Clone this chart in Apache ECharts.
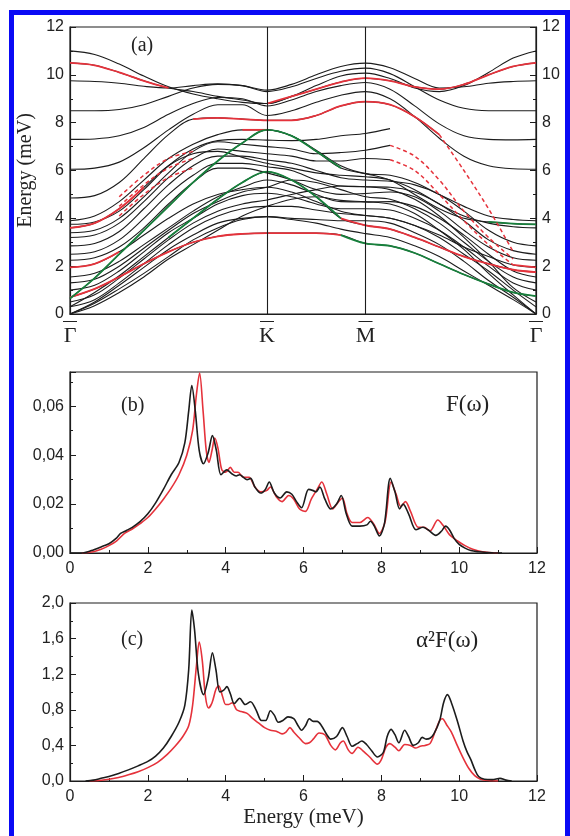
<!DOCTYPE html>
<html>
<head>
<meta charset="utf-8">
<title>phonon dispersion, F(w), a2F(w)</title>
<script src="https://cdn.jsdelivr.net/npm/echarts@6/dist/echarts.min.js"></script>
<style>
html,body{margin:0;padding:0;background:#fff;}
#chart{width:570px;height:836px;}
</style>
</head>
<body>
<div id="chart"></div>
<script>
// k-path  G(0) -> K(1) -> M(1.5) -> G(2.366)
var kPath = [0, 0.125, 0.25, 0.375, 0.5, 0.625, 0.75, 0.875, 1.0, 1.125, 1.25, 1.375, 1.5, 1.625, 1.75, 1.875, 2.0, 2.125, 2.25, 2.366];
var kLabels = ['Γ', 'K', 'M', 'Γ'];
var kMarks = [0, 1, 1.5, 2.366];

// black bands (meV)
var bk1  = [11.0, 10.85, 10.45, 9.95, 9.5, 9.2, 9.0, 8.85, 8.8, 9.1, 9.55, 9.95, 10.07, 9.85, 9.45, 9.3, 9.55, 10.1, 10.7, 11.0];
var bk2  = [9.75, 9.72, 9.65, 9.52, 9.45, 9.55, 9.62, 9.55, 9.36, 9.6, 10.0, 10.35, 10.49, 10.3, 9.85, 9.45, 9.5, 9.65, 9.72, 9.75];
var bk3  = [8.5, 8.5, 8.55, 8.75, 9.1, 9.45, 9.6, 9.55, 9.3, 9.5, 9.85, 10.15, 10.28, 10.05, 9.5, 8.95, 8.6, 8.5, 8.5, 8.5];
var bk4  = [7.3, 7.32, 7.45, 7.8, 8.35, 8.8, 9.05, 9.0, 8.7, 8.95, 9.3, 9.55, 9.68, 9.4, 8.7, 7.95, 7.45, 7.3, 7.28, 7.3];
var bk5  = [6.05, 6.1, 6.35, 6.95, 7.7, 8.35, 8.75, 8.75, 8.3, 8.5, 8.85, 9.15, 9.3, 9.0, 8.25, 7.35, 6.6, 6.2, 6.07, 6.05];
var bk6  = [4.85, 4.95, 5.5, 6.5, 7.5, 8.15, 8.2, 8.15, 8.1, 8.1, 8.3, 8.7, 8.88, 8.75, 8.25, 7.5, null, null, null, null];
var bk7  = [3.9, 4.1, 4.7, 5.6, 6.5, 7.1, 7.5, 7.7, 7.7, 7.45, 6.85, 6.2, 5.87, 5.8, 5.5, 5.0, 4.5, 4.1, 3.95, 3.9];
var bk8  = [3.75, 3.85, 4.3, 5.2, 6.2, 6.9, 7.25, 7.3, 7.27, 7.25, 7.3, 7.45, 7.55, 7.75, null, null, null, null, null, null];
var bk9  = [3.4, 3.5, 4.0, 4.9, 5.9, 6.8, 7.2, 7.1, 7.0, 6.9, 6.7, 6.75, 6.85, 7.05, null, null, null, null, null, null];
var bk10 = [3.2, 3.3, 3.8, 4.7, 5.7, 6.5, 6.9, 6.8, 6.7, 6.6, 6.4, 6.4, 6.5, 6.45, null, null, null, null, null, null];
var bk11 = [2.85, 2.95, 3.45, 4.4, 5.4, 6.2, 6.6, 6.6, 6.44, 6.3, 6.0, 5.7, 5.6, 5.55, 5.4, 5.0, 4.3, 3.5, 3.0, 2.85];
var bk12 = [2.5, 2.6, 3.1, 4.0, 5.0, 5.8, 6.3, 6.3, 6.16, 6.0, 5.6, 5.35, 5.32, 5.3, 5.1, 4.6, 3.9, 3.1, 2.65, 2.5];
var bk13 = [2.25, 2.35, 2.8, 3.6, 4.6, 5.5, 6.1, 6.1, 5.9, 5.6, 5.2, 5.0, 5.04, 5.1, 4.9, 4.3, 3.5, 2.8, 2.35, 2.25];
var bk14 = [1.55, 1.7, 2.2, 2.9, 3.6, 4.3, 4.9, 5.3, 5.6, 5.4, 5.0, 4.7, 4.69, 4.7, 4.5, 4.0, 3.3, 2.5, 1.8, 1.55];
var bk15 = [1.3, 1.45, 2.0, 2.75, 3.5, 4.2, 4.7, 5.1, 5.3, 5.6, 5.5, 5.2, 4.9, 4.8, 4.4, 3.8, 3.0, 2.2, 1.55, 1.3];
var bk16 = [1.0, 1.2, 1.8, 2.6, 3.4, 4.0, 4.6, 4.95, 5.05, 4.9, 4.6, 4.4, 4.4, 4.35, 4.0, 3.5, 2.8, 2.0, 1.3, 1.0];
var bk17 = [0.5, 0.8, 1.5, 2.3, 3.1, 3.8, 4.3, 4.6, 4.77, 5.0, 5.2, 5.35, 5.32, 5.2, 4.8, 4.1, 3.2, 2.2, 1.1, 0.5];
var bk18 = [0.3, 0.6, 1.3, 2.1, 2.9, 3.6, 4.1, 4.4, 4.5, 4.5, 4.35, 4.2, 4.12, 4.0, 3.7, 3.2, 2.5, 1.8, 1.0, 0.3];
var bk19 = [0, 0.5, 1.2, 1.95, 2.7, 3.3, 3.8, 4.0, 4.07, 4.0, 3.95, 3.9, 3.9, 3.8, 3.4, 2.9, 2.2, 1.4, 0.7, 0];
var bk20 = [0, 0.45, 1.05, 1.7, 2.4, 3.1, 3.6, 3.95, 4.07, 3.95, 3.8, 3.55, 3.36, 3.2, 2.85, 2.4, 1.8, 1.2, 0.6, 0];
var bk21 = [0, 0.35, 0.9, 1.55, 2.3, 2.9, 3.5, 4.1, 4.5, 4.8, 4.9, 4.75, 4.69, 4.6, 4.2, 3.5, 2.7, 1.7, 0.8, 0];
var bkA  = [0.65, 1.5, 2.5, 3.5, 4.5, 5.5, 6.4, 7.15, 7.7, 7.45, 6.8, 6.1, 5.87, 5.6, 5.0, 4.4, 4.0, 3.85, 3.78, 3.75];
var bkB  = [0.3, 0.9, 1.6, 2.4, 3.2, 4.0, 4.8, 5.5, 5.95, 5.6, 4.9, 4.0, 3.71, 3.55, 3.2, 2.8, 2.4, 2.1, 1.85, 1.75];
var bkL  = [0.7, 1.05, 1.55, 2.1, 2.6, 3.0, 3.25, 3.35, 3.38, 3.38, 3.38, 3.3, 2.95, 2.85, 2.55, 2.1, 1.65, 1.25, 0.9, 0.75];
var bkR  = [1.95, 2.1, 2.6, 3.3, 4.0, 4.6, 5.0, 5.2, 5.3, 5.1, 4.7, 4.3, 4.12, 4.0, 3.7, 3.3, 2.8, 2.4, 2.05, 1.95];
var bkH  = [3.6, 3.8, 4.4, 5.3, 6.2, 6.7, 6.8, 6.55, 6.3, 6.1, 5.9, 5.8, 5.74, 5.6, 5.2, 4.6, 4.1, 3.8, 3.65, 3.6];
var bkT  = [10.5, 10.4, 10.1, 9.75, 9.45, 9.3, 9.1, 8.95, 8.8, 9.1, 9.4, 9.7, 9.86, 9.75, 9.5, 9.4, 9.6, 10.0, 10.35, 10.5];

// coloured parts of bands (null = not coloured)
var redTop   = [10.5, 10.4, 10.1, 9.75, 9.45, null, null, null, 8.8, 9.1, 9.4, 9.7, 9.86, 9.75, 9.5, 9.4, 9.6, 10.0, 10.35, 10.5];
var red8     = [null, null, null, null, null, 8.15, 8.2, 8.15, 8.1, 8.1, 8.3, 8.7, 8.88, 8.75, 8.25, 7.5, null, null, null, null];
var red77    = [null, null, null, null, null, null, null, 7.7, 7.7, null, null, null, null, null, null, null, null, null, null, null];
var redLow   = [0.7, 1.05, 1.55, 2.1, 2.6, 3.0, 3.25, 3.35, 3.38, 3.38, 3.38, 3.3, null, null, null, null, null, null, null, null];
var redMid   = [null, null, null, null, null, null, null, null, null, null, null, 4.0, 3.71, 3.55, 3.2, 2.8, 2.4, 2.1, 1.85, 1.75];
var red195   = [1.95, 2.1, 2.6, null, null, null, null, null, null, null, null, null, null, null, null, null, null, null, 2.05, 1.95];
var red36    = [3.6, 3.8, 4.4, 5.3, null, null, null, null, null, null, null, null, null, null, null, null, null, null, null, null];
var greenA   = [0.65, 1.5, 2.5, 3.5, 4.5, 5.5, 6.4, 7.15, 7.7, 7.45, 6.8, 6.1, null, null, null, null, null, 3.85, 3.78, 3.75];
var greenB   = [null, null, null, null, 3.2, 4.0, 4.8, 5.5, 5.95, 5.6, 4.9, 4.0, null, null, null, null, null, null, null, null];
var greenLow = [null, null, null, null, null, null, null, null, null, null, null, 3.3, 2.95, 2.85, 2.55, 2.1, 1.65, 1.25, 0.9, 0.75];
var dashL1 = [null, null, 4.9, 5.8, 6.5, 6.8, null, null, null, null, null, null, null, null, null, null, null, null, null, null];
var dashL2 = [null, null, 4.5, 5.4, 6.1, 6.5, null, null, null, null, null, null, null, null, null, null, null, null, null, null];
var dashL3 = [null, null, 4.1, 5.0, 5.7, 6.1, null, null, null, null, null, null, null, null, null, null, null, null, null, null];
var dashR1 = [null, null, null, null, null, null, null, null, null, null, null, null, null, null, null, 7.5, 6.0, 4.4, 2.6, null];
var dashR2 = [null, null, null, null, null, null, null, null, null, null, null, null, null, 7.05, 6.6, 5.6, 4.3, 3.2, 2.3, null];
var dashR3 = [null, null, null, null, null, null, null, null, null, null, null, null, null, 6.45, 6.0, 5.0, 3.9, 2.9, 2.05, null];

// (b) F(w)
var fEnergyBlack = [0, 0.3, 0.55, 0.8, 1.0, 1.2, 1.3, 1.45, 1.6, 1.8, 2.0, 2.2, 2.4, 2.6, 2.8, 2.95, 3.05, 3.13, 3.22, 3.32, 3.43, 3.55, 3.66, 3.76, 3.88, 4.03, 4.15, 4.27, 4.36, 4.45, 4.55, 4.64, 4.75, 4.9, 5.02, 5.12, 5.25, 5.4, 5.57, 5.7, 5.82, 5.95, 6.13, 6.25, 6.32, 6.42, 6.55, 6.7, 6.85, 6.97, 7.1, 7.25, 7.45, 7.63, 7.72, 7.82, 7.95, 8.08, 8.23, 8.35, 8.47, 8.56, 8.7, 8.89, 9.07, 9.2, 9.4, 9.55, 9.65, 9.75, 9.87, 10.0, 10.15, 10.3, 10.5, 10.7, 10.9, 11.1];
var fBlack = [0, 0, 0.001, 0.0025, 0.0038, 0.0062, 0.008, 0.0092, 0.0105, 0.0128, 0.016, 0.0205, 0.026, 0.032, 0.037, 0.045, 0.058, 0.0685, 0.058, 0.042, 0.0365, 0.041, 0.048, 0.042, 0.032, 0.034, 0.0325, 0.0315, 0.032, 0.031, 0.030, 0.0305, 0.027, 0.0245, 0.026, 0.029, 0.0245, 0.0225, 0.025, 0.024, 0.021, 0.0185, 0.026, 0.0255, 0.025, 0.027, 0.022, 0.018, 0.020, 0.0235, 0.016, 0.011, 0.011, 0.0115, 0.013, 0.011, 0.007, 0.012, 0.0305, 0.025, 0.018, 0.020, 0.016, 0.0095, 0.0105, 0.0095, 0.0072, 0.009, 0.011, 0.0095, 0.006, 0.0035, 0.002, 0.001, 0.0005, 0.0002, 0, 0];
var fEnergyRed = [0.3, 0.6, 0.8, 1.0, 1.2, 1.4, 1.6, 1.8, 2.0, 2.2, 2.4, 2.6, 2.8, 3.0, 3.15, 3.25, 3.33, 3.42, 3.5, 3.57, 3.65, 3.72, 3.8, 3.9, 4.0, 4.12, 4.22, 4.32, 4.45, 4.6, 4.75, 4.9, 5.05, 5.15, 5.3, 5.45, 5.62, 5.75, 5.9, 6.05, 6.2, 6.35, 6.47, 6.6, 6.75, 6.9, 7.0, 7.12, 7.25, 7.45, 7.65, 7.8, 7.95, 8.1, 8.25, 8.38, 8.5, 8.62, 8.75, 8.95, 9.1, 9.25, 9.45, 9.6, 9.75, 9.95, 10.15, 10.35, 10.6, 11.0];
var fRed = [0, 0.0005, 0.0015, 0.003, 0.005, 0.008, 0.0098, 0.012, 0.0145, 0.018, 0.022, 0.0265, 0.032, 0.04, 0.05, 0.065, 0.0736, 0.058, 0.042, 0.037, 0.042, 0.047, 0.043, 0.034, 0.033, 0.035, 0.033, 0.033, 0.031, 0.031, 0.027, 0.025, 0.0255, 0.027, 0.023, 0.021, 0.0235, 0.022, 0.018, 0.017, 0.022, 0.026, 0.029, 0.024, 0.018, 0.021, 0.0225, 0.016, 0.0125, 0.0125, 0.0145, 0.012, 0.008, 0.013, 0.029, 0.024, 0.019, 0.021, 0.017, 0.0105, 0.0105, 0.009, 0.0135, 0.011, 0.0075, 0.005, 0.003, 0.0015, 0.0005, 0];

// (c) a2F(w)
var aEnergyBlack = [0.4, 0.6, 0.8, 1.0, 1.25, 1.5, 1.75, 2.0, 2.2, 2.4, 2.6, 2.8, 2.95, 3.05, 3.13, 3.2, 3.3, 3.43, 3.55, 3.66, 3.75, 3.85, 3.95, 4.03, 4.12, 4.22, 4.36, 4.5, 4.64, 4.78, 4.92, 5.03, 5.15, 5.25, 5.35, 5.47, 5.6, 5.75, 5.85, 5.95, 6.05, 6.15, 6.25, 6.35, 6.45, 6.6, 6.7, 6.85, 7.0, 7.12, 7.25, 7.38, 7.5, 7.62, 7.75, 7.9, 8.05, 8.15, 8.25, 8.35, 8.45, 8.6, 8.7, 8.82, 8.95, 9.05, 9.15, 9.25, 9.35, 9.5, 9.6, 9.7, 9.8, 9.95, 10.1, 10.2, 10.3, 10.4, 10.5, 10.65, 10.85, 11.05, 11.2, 11.35];
var aBlack = [0, 0.01, 0.03, 0.05, 0.085, 0.125, 0.17, 0.22, 0.28, 0.37, 0.5, 0.66, 0.85, 1.25, 1.92, 1.7, 1.2, 0.97, 1.15, 1.44, 1.25, 1.0, 1.02, 1.06, 0.98, 0.87, 0.93, 0.86, 0.89, 0.8, 0.68, 0.68, 0.79, 0.74, 0.66, 0.68, 0.72, 0.7, 0.63, 0.57, 0.62, 0.70, 0.67, 0.67, 0.63, 0.52, 0.47, 0.5, 0.6, 0.5, 0.39, 0.42, 0.45, 0.41, 0.34, 0.27, 0.32, 0.5, 0.58, 0.52, 0.43, 0.57, 0.5, 0.4, 0.43, 0.49, 0.47, 0.48, 0.53, 0.68, 0.88, 0.97, 0.88, 0.68, 0.45, 0.33, 0.24, 0.13, 0.05, 0.02, 0.015, 0.03, 0.01, 0];
var aEnergyRed = [0.5, 0.75, 1.0, 1.25, 1.5, 1.75, 2.0, 2.25, 2.5, 2.7, 2.9, 3.05, 3.15, 3.25, 3.32, 3.4, 3.48, 3.56, 3.65, 3.75, 3.82, 3.92, 4.0, 4.08, 4.17, 4.28, 4.4, 4.55, 4.7, 4.85, 5.0, 5.15, 5.3, 5.45, 5.55, 5.65, 5.75, 5.9, 6.05, 6.15, 6.25, 6.4, 6.55, 6.7, 6.82, 6.95, 7.02, 7.15, 7.25, 7.4, 7.55, 7.7, 7.9, 8.0, 8.12, 8.22, 8.35, 8.45, 8.6, 8.75, 8.88, 9.0, 9.12, 9.25, 9.38, 9.5, 9.57, 9.68, 9.8, 9.95, 10.1, 10.25, 10.4, 10.55, 10.75, 11.0];
var aRed = [0, 0.005, 0.02, 0.04, 0.07, 0.105, 0.15, 0.21, 0.3, 0.39, 0.5, 0.62, 0.85, 1.3, 1.56, 1.35, 0.95, 0.82, 0.88, 1.03, 1.07, 0.95, 0.86, 0.86, 0.88, 0.8, 0.78, 0.76, 0.7, 0.65, 0.6, 0.57, 0.56, 0.53, 0.55, 0.6, 0.55, 0.48, 0.42, 0.43, 0.47, 0.54, 0.52, 0.4, 0.35, 0.43, 0.45, 0.35, 0.31, 0.38, 0.33, 0.27, 0.19, 0.24, 0.38, 0.42, 0.38, 0.34, 0.41, 0.4, 0.37, 0.39, 0.4, 0.42, 0.55, 0.68, 0.7, 0.63, 0.55, 0.4, 0.26, 0.14, 0.06, 0.02, 0.005, 0];

var BLACK = '#1c1c1c', RED = '#e5323b', GREEN = '#17803c';
var SANS = 'Liberation Sans, Arial, sans-serif';
var SERIF = 'Liberation Serif, Times New Roman, serif';

function bandPairs(arr) {
	return arr.map(function (v, i) { return [kPath[i], v == null ? '-' : v]; });
}
function zipPairs(xs, ys) {
	return xs.map(function (x, i) { return [x, ys[i]]; });
}
function bandSeries(arr, color, width, dashed) {
	return {
		type: 'line', xAxisIndex: 0, yAxisIndex: 0,
		data: bandPairs(arr), smooth: 0.35, showSymbol: false, silent: true,
		lineStyle: { color: color, width: width, type: dashed ? [4, 3] : 'solid' }
	};
}

var blackBands = [bk1, bk2, bk3, bk4, bk5, bk6, bk7, bk8, bk9, bk10, bk11, bk12, bk13, bk14, bk15, bk16, bk17, bk18, bk19, bk20, bk21, bkA, bkB, bkL, bkR, bkH, bkT];
var series = [];
blackBands.forEach(function (b) { series.push(bandSeries(b, BLACK, 1.1, false)); });
[redTop, red8, red77, redLow, redMid, red195, red36].forEach(function (b) { series.push(bandSeries(b, RED, 1.8, false)); });
[greenA, greenB, greenLow].forEach(function (b) { series.push(bandSeries(b, GREEN, 1.8, false)); });
[dashL1, dashL2, dashL3, dashR1, dashR2, dashR3].forEach(function (b) { series.push(bandSeries(b, RED, 1.5, true)); });

// K and M verticals
series[0].markLine = {
	symbol: 'none', silent: true, label: { show: false },
	lineStyle: { color: BLACK, type: 'solid', width: 1.1 },
	data: [{ xAxis: 1 }, { xAxis: 1.5 }]
};

function dosSeries(xi, yi, xs, ys, color) {
	return {
		type: 'line', xAxisIndex: xi, yAxisIndex: yi,
		data: zipPairs(xs, ys), smooth: 0.3, showSymbol: false, silent: true,
		lineStyle: { color: color, width: 1.6 }
	};
}
series.push(dosSeries(1, 2, fEnergyRed, fRed, RED));
series.push(dosSeries(1, 2, fEnergyBlack, fBlack, BLACK));
series.push(dosSeries(2, 3, aEnergyRed, aRed, RED));
series.push(dosSeries(2, 3, aEnergyBlack, aBlack, BLACK));

var tickIn = { inside: true, length: 6, lineStyle: { color: BLACK, width: 1 } };
var minorIn = { show: true, splitNumber: 2, length: 3, lineStyle: { color: BLACK, width: 1 } };
var axLine = { lineStyle: { color: BLACK, width: 1.2 } };
var numLabel = { color: '#222', fontSize: 16, fontFamily: SANS, margin: 6 };

function energyAxis(gi, withName) {
	var ax = {
		type: 'value', gridIndex: gi, min: 0, max: 12, interval: 2,
		axisLine: axLine, axisTick: tickIn,
		minorTick: { show: true, splitNumber: 2, length: 3, lineStyle: { color: BLACK, width: 1 } },
		splitLine: { show: false },
		axisLabel: Object.assign({}, numLabel, { margin: 8 })
	};
	if (withName) {
		ax.name = 'Energy (meV)';
		ax.nameLocation = 'middle';
		ax.nameGap = 26;
		ax.nameTextStyle = { fontFamily: SERIF, fontSize: 21, color: '#222' };
	}
	return ax;
}

var chart = echarts.init(document.getElementById('chart'), null, { renderer: 'canvas' });
chart.setOption({
	backgroundColor: '#fff',
	animation: false,
	grid: [
		{ left: 70, top: 27, width: 466, height: 287, show: true, borderColor: BLACK, borderWidth: 1.2 },
		{ left: 70, top: 372, width: 467, height: 181, show: true, borderColor: BLACK, borderWidth: 1.2 },
		{ left: 70, top: 603, width: 467, height: 178, show: true, borderColor: BLACK, borderWidth: 1.2 }
	],
	xAxis: [
		{
			type: 'value', gridIndex: 0, min: 0, max: 2.366,
			axisLine: axLine, axisTick: { show: false }, splitLine: { show: false },
			axisLabel: {
				customValues: kMarks, margin: 3, interval: 0,
				formatter: function (v) {
					var i = kMarks.indexOf(v);
					if (i < 0) { i = v < 0.5 ? 0 : (v < 1.2 ? 1 : (v < 2 ? 2 : 3)); }
					return '{bar|—}\n{t|' + kLabels[i] + '}';
				},
				rich: {
					bar: { fontFamily: SANS, fontSize: 14, lineHeight: 8, color: '#222', align: 'center' },
					t: { fontFamily: SERIF, fontSize: 22, lineHeight: 22, color: '#222', align: 'center' }
				}
			}
		},
		energyAxis(1, false),
		energyAxis(2, true)
	],
	yAxis: [
		{
			type: 'value', gridIndex: 0, min: 0, max: 12, interval: 2,
			axisLine: axLine, axisTick: tickIn, minorTick: minorIn, splitLine: { show: false },
			axisLabel: numLabel,
			name: 'Energy (meV)', nameLocation: 'middle', nameGap: 30,
			nameTextStyle: { fontFamily: SERIF, fontSize: 20, color: '#222' }
		},
		{
			type: 'value', gridIndex: 0, position: 'right', min: 0, max: 12, interval: 2,
			axisLine: axLine, axisTick: tickIn, minorTick: minorIn, splitLine: { show: false },
			axisLabel: numLabel
		},
		{
			type: 'value', gridIndex: 1, min: 0, max: 0.074, interval: 0.02,
			axisLine: axLine, axisTick: tickIn, minorTick: minorIn, splitLine: { show: false },
			axisLabel: Object.assign({}, numLabel, {
				showMaxLabel: false,
				formatter: function (v) { return v.toFixed(2).replace('.', ','); }
			})
		},
		{
			type: 'value', gridIndex: 2, min: 0, max: 2.0, interval: 0.4,
			axisLine: axLine, axisTick: tickIn, minorTick: minorIn, splitLine: { show: false },
			axisLabel: Object.assign({}, numLabel, {
				formatter: function (v) { return v.toFixed(1).replace('.', ','); }
			})
		}
	],
	graphic: [
		{ type: 'rect', silent: true, z: 100, shape: { x: 11.5, y: 12.5, width: 556, height: 900 },
		  style: { fill: null, stroke: '#0a0af5', lineWidth: 5 } },
		{ type: 'text', left: 131, top: 36, style: { text: '(a)', font: '20px ' + SERIF, fill: '#222' } },
		{ type: 'text', left: 121, top: 396, style: { text: '(b)', font: '20px ' + SERIF, fill: '#222' } },
		{ type: 'text', left: 446, top: 393, style: { text: 'F(ω)', font: '23px ' + SERIF, fill: '#222' } },
		{ type: 'text', left: 121, top: 630, style: { text: '(c)', font: '20px ' + SERIF, fill: '#222' } },
		{ type: 'text', left: 416, top: 629, style: { text: 'α²F(ω)', font: '23px ' + SERIF, fill: '#222' } }
	],
	series: series
});
</script>
</body>
</html>
